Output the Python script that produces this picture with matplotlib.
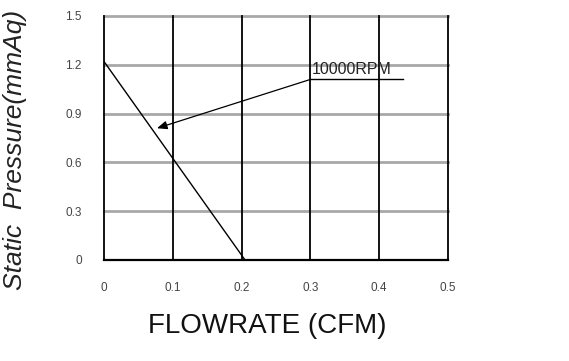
import matplotlib
matplotlib.use("Agg")
import matplotlib.pyplot as plt

plt.rcParams["font.family"] = ["Liberation Sans", "DejaVu Sans"]

# fan curve (flowrate in CFM, static pressure in mmAq)
flowrate = [0.0, 0.205]
pressure = [1.22, 0.0]

x_ticks = [0, 0.1, 0.2, 0.3, 0.4, 0.5]
x_tick_labels = ["0", "0.1", "0.2", "0.3", "0.4", "0.5"]
y_ticks = [0, 0.3, 0.6, 0.9, 1.2, 1.5]
y_tick_labels = ["0", "0.3", "0.6", "0.9", "1.2", "1.5"]

label_text = "10000RPM"
label_anchor = (0.3, 1.11)
label_target = (0.077, 0.81)
label_end_x = 0.435

fig = plt.figure(figsize=(5.69, 3.61), dpi=100)
ax = fig.add_axes([0.1828, 0.2798, 0.6045, 0.6759])

for y in y_ticks[1:]:
    ax.axhline(y, color="#a8a8a8", lw=2.0, zorder=1, clip_on=False)
for x in x_ticks:
    ax.axvline(x, color="black", lw=1.3, zorder=2, clip_on=False)
ax.axhline(0, color="black", lw=1.6, zorder=2, clip_on=False)

ax.plot(flowrate, pressure, color="black", lw=1.0, zorder=3)

ax.annotate("", xy=label_target, xytext=label_anchor,
            arrowprops=dict(arrowstyle="-|>,head_length=0.6,head_width=0.25",
                            color="black", lw=0.9, shrinkA=0, shrinkB=0), zorder=4)
ax.plot([label_anchor[0], label_end_x], [label_anchor[1]] * 2, color="black", lw=1.0, zorder=4)
ax.text(label_anchor[0] + 0.002, label_anchor[1] + 0.015, label_text, fontsize=11.5,
        color="#222222", ha="left", va="bottom", zorder=5)

ax.set_xlim(0, 0.5)
ax.set_ylim(0, 1.5)
ax.set_xticks(x_ticks)
ax.set_xticklabels(x_tick_labels)
ax.set_yticks(y_ticks)
ax.set_yticklabels(y_tick_labels)
ax.tick_params(axis="x", length=0, pad=16, labelsize=8.5, colors="#444444")
ax.tick_params(axis="y", length=0, pad=16, labelsize=8.5, colors="#444444")
for s in ax.spines.values():
    s.set_visible(False)

fig.text(0.47, 0.098, "FLOWRATE (CFM)", fontsize=20, ha="center", va="center", color="#111111")
fig.text(0.027, 0.585, "Static  Pressure(mmAq)", fontsize=19, style="italic",
         rotation=90, ha="center", va="center", color="#222222")

fig.savefig("out.png", dpi=100)
